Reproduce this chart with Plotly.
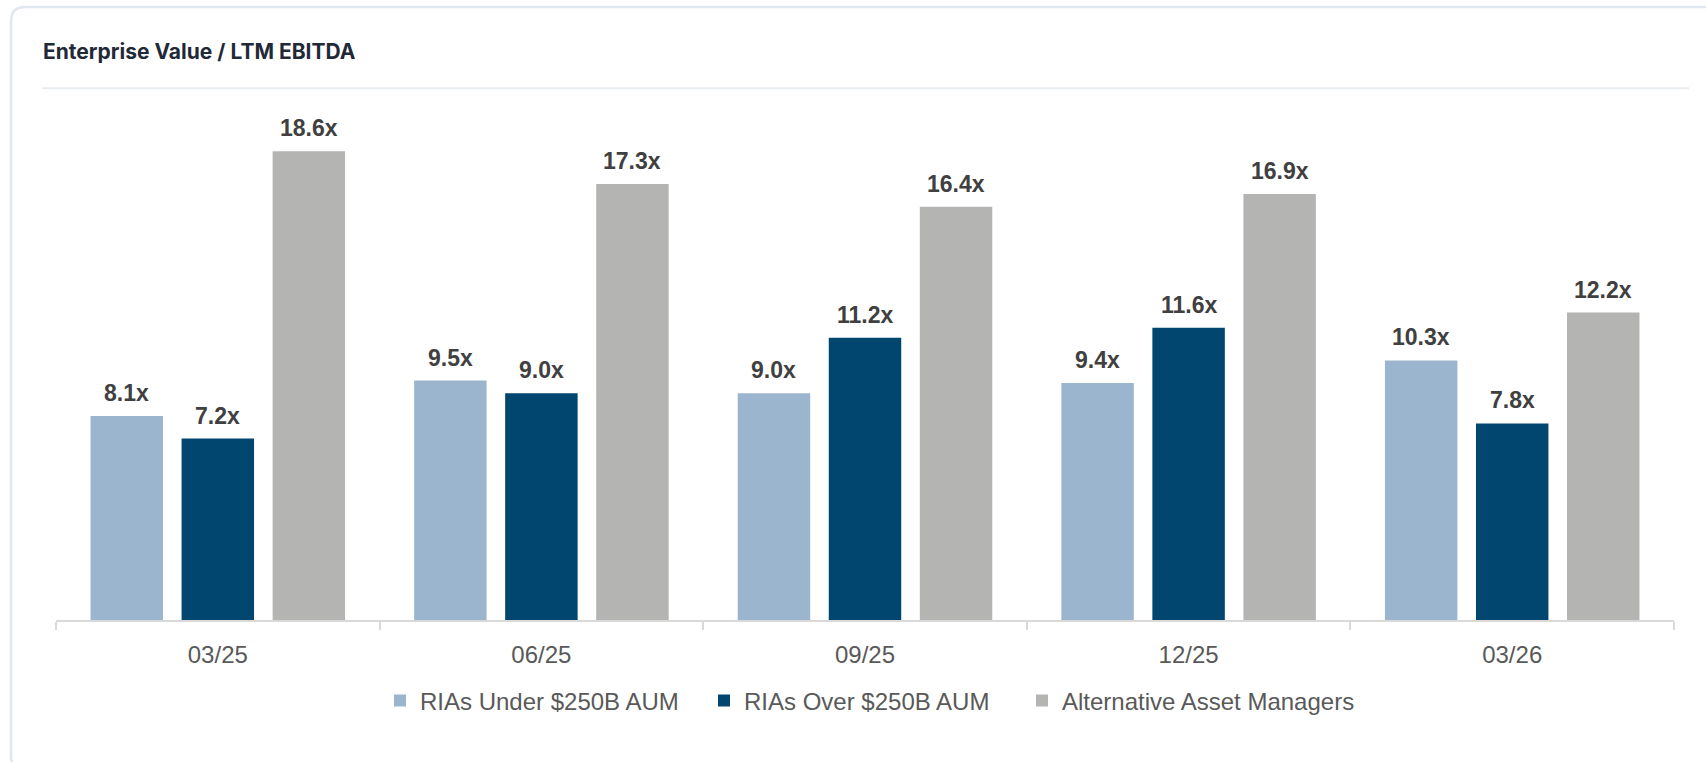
import plotly.graph_objects as go

# ---- data ----
categories = ["03/25", "06/25", "09/25", "12/25", "03/26"]
series_names = ["RIAs Under $250B AUM", "RIAs Over $250B AUM", "Alternative Asset Managers"]
ria_under = [8.1, 9.5, 9.0, 9.4, 10.3]
ria_over = [7.2, 9.0, 11.2, 11.6, 7.8]
alt_mgrs = [18.6, 17.3, 16.4, 16.9, 12.2]
series_values = [ria_under, ria_over, alt_mgrs]
colors = ["#9cb5ce", "#01466e", "#b4b4b3"]
legend_ids = ["legend", "legend", "legend2"]
title_text = "Enterprise Value / LTM EBITDA"

# ---- layout geometry (pixels) ----
W, H = 1706, 762
ML, MR, MT, MB = 56, 32, 116, 142
PW = W - ML - MR
PH = H - MT - MB
BARGAP = 0.156
BARGROUPGAP = 0.204


def px(xp):
    return (xp - ML) / PW


def py(yp):
    return (H - MB - yp) / PH


fig = go.Figure()
for name, vals, col, lg in zip(series_names, series_values, colors, legend_ids):
    fig.add_trace(go.Bar(
        x=categories, y=vals, name=name, legend=lg,
        marker=dict(color=col, line=dict(width=0)),
        hoverinfo="x+y+name",
    ))

# value labels
cat_px = PW / len(categories)
slot_px = (1 - BARGAP) * cat_px / len(series_values)
annotations = []
for i, vals in enumerate(series_values):
    offset = (i - (len(series_values) - 1) / 2) * slot_px
    for c, v in zip(categories, vals):
        annotations.append(dict(
            x=c, y=v, xref="x", yref="y",
            text=f"<b>{v:.1f}x</b>", showarrow=False,
            xshift=offset, yshift=23, yanchor="middle", xanchor="center",
            font=dict(family="Liberation Sans, Arial, sans-serif", size=23, color="#404040"),
        ))

# card border + divider
L, T, R, B, r = 11, 7, 1722, 770, 14
card_path = (
    f"M {px(L + r)},{py(T)} L {px(R - r)},{py(T)} Q {px(R)},{py(T)} {px(R)},{py(T + r)} "
    f"L {px(R)},{py(B - r)} Q {px(R)},{py(B)} {px(R - r)},{py(B)} "
    f"L {px(L + r)},{py(B)} Q {px(L)},{py(B)} {px(L)},{py(B - r)} "
    f"L {px(L)},{py(T + r)} Q {px(L)},{py(T)} {px(L + r)},{py(T)} Z"
)
shapes = [
    dict(type="path", xref="paper", yref="paper", path=card_path,
         line=dict(color="#dfe6ee", width=2.5), fillcolor="rgba(0,0,0,0)", layer="below"),
    dict(type="line", xref="paper", yref="paper", x0=px(42), x1=px(1689), y0=py(88.3), y1=py(88.3),
         line=dict(color="#e8edf2", width=2), layer="below"),
]

legend_font = dict(family="Liberation Sans, Arial, sans-serif", size=24, color="#595959")

fig.update_layout(
    width=W, height=H,
    margin=dict(l=ML, r=MR, t=MT, b=MB, pad=0),
    paper_bgcolor="white", plot_bgcolor="white",
    barmode="group", bargap=BARGAP, bargroupgap=BARGROUPGAP,
    title=dict(
        text=f"<b>{title_text}</b>", x=43 / W, xanchor="left", xref="container",
        y=1 - 52 / H, yanchor="middle", yref="container",
        font=dict(family="Inter, Noto Sans, sans-serif", size=21, color="#1f2937"),
    ),
    xaxis=dict(
        type="category", showline=True, linecolor="#d9d9d9", linewidth=2,
        ticks="outside", tickson="boundaries", ticklen=8, tickwidth=2, tickcolor="#d9d9d9",
        tickfont=dict(family="Liberation Sans, Arial, sans-serif", size=24, color="#595959"),
        ticklabelstandoff=12, showgrid=False, zeroline=False,
    ),
    yaxis=dict(range=[0, 20], visible=False, showgrid=False, zeroline=False),
    legend=dict(
        orientation="h", x=px(394 - 14), xanchor="left", y=py(701), yanchor="middle",
        font=legend_font, bgcolor="rgba(0,0,0,0)", itemclick=False,
        entrywidth=279, entrywidthmode="pixels",
    ),
    legend2=dict(
        orientation="h", x=px(1036 - 14), xanchor="left", y=py(701), yanchor="middle",
        font=legend_font, bgcolor="rgba(0,0,0,0)", itemclick=False,
    ),
    annotations=annotations,
    shapes=shapes,
    showlegend=True,
)

fig.write_html("out.html", config={"displayModeBar": False},
               post_script="document.body.style.margin='0';document.body.style.overflow='hidden';")
